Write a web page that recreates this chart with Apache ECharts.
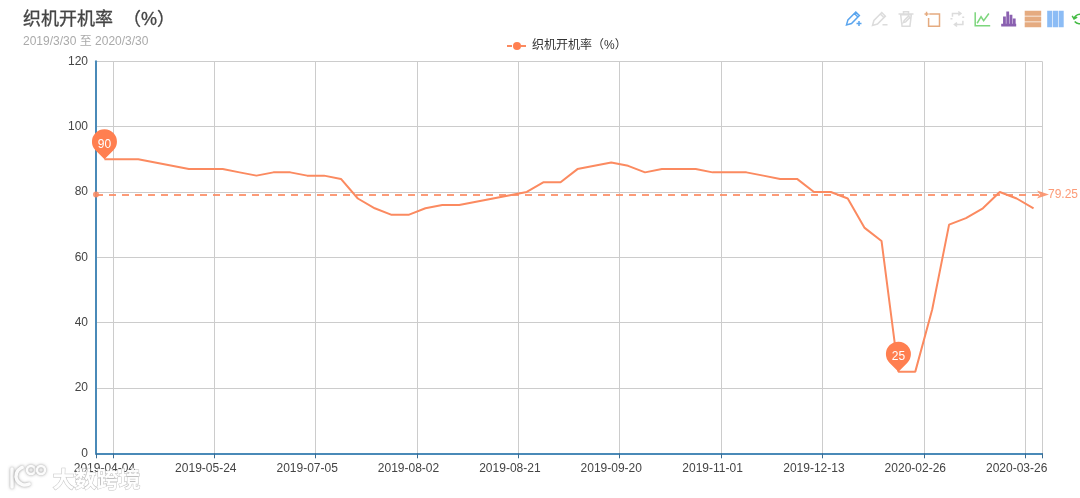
<!DOCTYPE html>
<html>
<head>
<meta charset="utf-8">
<style>html,body{margin:0;padding:0;background:#fff;overflow:hidden}#c{width:1080px;height:498px}</style>
<script src="https://cdn.jsdelivr.net/npm/echarts@6/dist/echarts.min.js"></script>
</head>
<body>
<div id="c"></div>
<script>
const dates = [
'2019-04-04','2019-04-11','2019-04-18','2019-04-25','2019-05-05','2019-05-16','2019-05-24','2019-05-31',
'2019-06-06','2019-06-14','2019-06-21','2019-06-28','2019-07-05','2019-07-12','2019-07-17','2019-07-19',
'2019-07-24','2019-07-26','2019-08-02','2019-08-05','2019-08-07','2019-08-09','2019-08-14','2019-08-16',
'2019-08-21','2019-08-23','2019-08-30','2019-09-04','2019-09-06','2019-09-11','2019-09-20','2019-09-27',
'2019-10-11','2019-10-18','2019-10-23','2019-10-25','2019-11-01','2019-11-08','2019-11-15','2019-11-22',
'2019-11-29','2019-12-06','2019-12-13','2019-12-20','2019-12-27','2020-01-03','2020-01-10','2020-01-17',
'2020-02-26','2020-02-28','2020-03-04','2020-03-06','2020-03-11','2020-03-18','2020-03-26','2020-03-30'];
const rates = [
90,90,90,89,88,87,87,87,86,85,86,86,85,85,84,78,75,73,73,75,76,76,77,78,79,80,83,83,
87,88,89,88,86,87,87,87,86,86,86,85,84,84,80,80,78,69,65,25,25,44,70,72,75,80,78,75];
const seriesName = '织机开机率（%）';
const averageValue = 79.25;
const mainColor = '#ff7f50';
const lineColor = '#fb8a60';
const font = '"Liberation Sans","Noto Sans CJK SC",sans-serif';

const icons = {
  markAdd: 'path://M3 21 L5 14 L16 3 L21 8 L10 19 Z M14 5 L19 10 M17 19 H24 M20.5 15.5 V22.5',
  markUndo: 'path://M3 21 L5 14 L16 3 L21 8 L10 19 Z M14 5 L19 10 M17 20 H24',
  markClear: 'path://M5 6 L7 22 H18 L20 6 Z M2 5 H23 M9 5 V2 H16 V5 M9 17 L10 14 L16 8 L18 10 L12 16 Z',
  zoomIn: 'path://M7 4 H22 V22 H6 V10 M0 4 H6 M3 1 V7',
  zoomReset: 'path://M5 9 V4 H17 M14 1 L18 4 L14 7 M21 15 V21 H9 M12 18 L8 21 L12 24 M2 12 H5 M20 10 H23',
  line: 'path://M1 1 V22 H24 M4 18 L10 8 L14 14 L22 3',
  bar: 'path://M1 22 H24 M1 24 H24 M5 20 V11 H7 V20 Z M10 20 V3 H12 V20 Z M15 20 V8 H17 V20 Z M20 20 V14 H22 V20 Z',
  stack: 'path://M2 2 H23 V7 H2 Z M2 10 H23 V15 H2 Z M2 18 H23 V23 H2 Z',
  tiled: 'path://M2 2 H7 V23 H2 Z M10 2 H15 V23 H10 Z M18 2 H23 V23 H18 Z',
  restore: 'path://M20 8 A10 10 0 0 0 3 11 M0 7 L3 12 L8 9 M4 16 A10 10 0 0 0 21 13 M24 17 L21 12 L16 15'
};
function tool(title, icon, color, fill) {
  return {show:true, title, icon, iconStyle:{borderColor:color, color:fill||'none', borderWidth:1.5}, onclick(){}};
}
const markerPin = 'path://M12.5 30 L3.5 21 A12.5 12.5 0 1 1 21.5 21 Z';
const wmFill = 'rgba(255,255,255,0.95)';
const wmStroke = 'rgba(150,150,150,0.6)';
const wmShadow = {shadowColor:'rgba(110,110,110,0.8)', shadowBlur:3};

const chart = echarts.init(document.getElementById('c'), null, {renderer:'canvas'});
chart.setOption({
  animation:false,
  color:[mainColor],
  title:{
    text:'织机开机率  （%）',
    subtext:'2019/3/30 至 2020/3/30',
    left:18, top:6, itemGap:6,
    textStyle:{fontFamily:font, fontSize:18, fontWeight:'normal', color:'#444', textBorderColor:'#444', textBorderWidth:0.3},
    subtextStyle:{fontFamily:font, fontSize:12, color:'#aaa'}
  },
  legend:{
    data:[seriesName], top:35, left:501, itemWidth:20, itemHeight:10, itemGap:6,
    lineStyle:{type:[5,2]},
    textStyle:{fontFamily:font, fontSize:12, color:'#333'}
  },
  toolbox:{
    show:true, orient:'horizontal', left:844, top:9, width:400, itemSize:15, itemGap:6, padding:0,
    feature:{
      myMarkAdd:tool('辅助线开关', icons.markAdd, '#5aa5ee'),
      myMarkUndo:tool('删除辅助线', icons.markUndo, '#dcdcdc'),
      myMarkClear:tool('清空辅助线', icons.markClear, '#dcdcdc'),
      myZoomIn:tool('区域缩放', icons.zoomIn, '#e5ab80'),
      myZoomReset:tool('区域缩放后退', icons.zoomReset, '#dcdcdc'),
      myLine:tool('折线图切换', icons.line, '#7dd67d'),
      myBar:tool('柱形图切换', icons.bar, '#8a60b0'),
      myStack:tool('堆积', icons.stack, '#e5ab80', '#e5ab80'),
      myTiled:tool('平铺', icons.tiled, '#8cbcf5', '#8cbcf5'),
      myRestore:tool('还原', icons.restore, '#44bb44')
    }
  },
  grid:{left:96, right:38, top:61.3, bottom:44.7, containLabel:false, show:false},
  xAxis:{
    type:'category', data:dates, boundaryGap:true,
    axisLine:{lineStyle:{color:'#4a8ab8', width:2}},
    axisTick:{show:true, length:5, interval:(i)=>i%6===1||i===0, lineStyle:{color:'#3c6c90'}},
    axisLabel:{interval:(i)=>i%6===0, fontFamily:font, fontSize:12, color:'#444', margin:9, hideOverlap:false},
    splitLine:{show:true, interval:(i)=>i%6===1, lineStyle:{color:'#ccc', width:1}}
  },
  yAxis:{
    type:'value', min:0, max:120, interval:20,
    axisLine:{show:true, lineStyle:{color:'#4a8ab8', width:2}},
    axisTick:{show:false},
    axisLabel:{fontFamily:font, fontSize:12, color:'#444', margin:8},
    splitLine:{show:true, lineStyle:{color:'#ccc', width:1}}
  },
  series:[{
    name:seriesName, type:'line', data:rates, symbol:'circle', symbolSize:6, showSymbol:false,
    lineStyle:{color:lineColor, width:2},
    itemStyle:{color:mainColor},
    z:3,
    markPoint:{
      symbol:markerPin, symbolSize:[25,30], symbolOffset:[0,-15],
      itemStyle:{color:mainColor},
      label:{color:'#fff', fontFamily:font, fontSize:12, position:'inside'},
      data:[{type:'max'},{type:'min'}]
    },
    markLine:{
      silent:true,
      symbol:['circle','arrow'], symbolSize:[6,12], symbolOffset:[[0,0],[0,-7]],
      lineStyle:{color:lineColor, type:[7,6], width:1.8, opacity:0.85},
      label:{position:'end', color:lineColor, fontFamily:font, fontSize:12, formatter:'{c}', distance:6},
      data:[{yAxis:averageValue}]
    }
  }],
  graphic:[
    {type:'line', z:100, shape:{x1:12,y1:469,x2:12,y2:487}, style:{stroke:wmFill, lineWidth:3.5, lineCap:'round', ...wmShadow}},
    {type:'arc', z:100, shape:{cx:25,cy:476,r:9,startAngle:Math.PI*0.35,endAngle:Math.PI*1.4,clockwise:true}, style:{stroke:wmFill, fill:'none', lineWidth:3.5, lineCap:'round', ...wmShadow}},
    {type:'circle', z:100, shape:{cx:31,cy:470,r:4}, style:{stroke:wmFill, fill:'none', lineWidth:2.5, ...wmShadow}},
    {type:'circle', z:100, shape:{cx:41,cy:470,r:4}, style:{stroke:wmFill, fill:'none', lineWidth:2.5, ...wmShadow}},
    {type:'text', z:100, left:52, top:467, style:{text:'大数跨境', fill:wmFill, stroke:wmStroke, lineWidth:1, font:'bold 22px "Noto Sans CJK SC"'}}
  ]
});
</script>
</body>
</html>
